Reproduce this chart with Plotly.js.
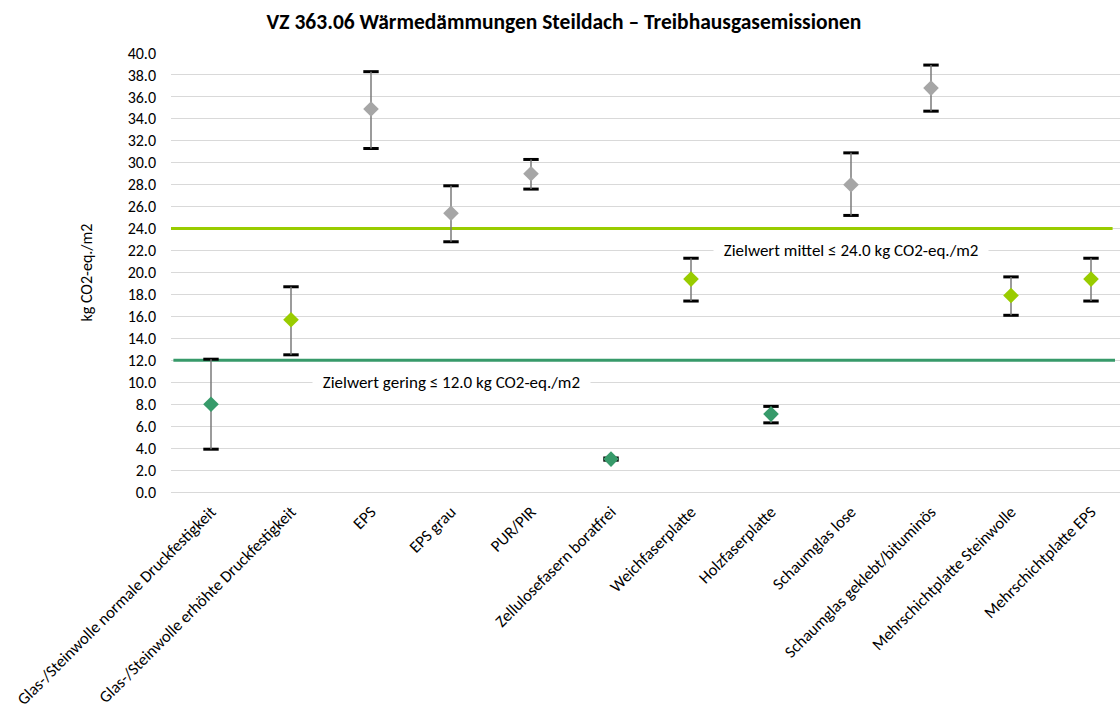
<!DOCTYPE html>
<html>
<head>
<meta charset="utf-8">
<script src="https://cdn.plot.ly/plotly-3.0.1.min.js"></script>
<style>html,body{margin:0;padding:0;background:#fff;}#chart{width:1120px;height:713px;}</style>
</head>
<body>
<div id="chart"></div>
<script>
const categories = [
  "Glas-/Steinwolle normale Druckfestigkeit",
  "Glas-/Steinwolle erhöhte Druckfestigkeit",
  "EPS",
  "EPS grau",
  "PUR/PIR",
  "Zellulosefasern boratfrei",
  "Weichfaserplatte",
  "Holzfaserplatte",
  "Schaumglas lose",
  "Schaumglas geklebt/bituminös",
  "Mehrschichtplatte Steinwolle",
  "Mehrschichtplatte EPS"
];
const values = [8.0, 15.7, 34.9, 25.4, 29.0, 3.0, 19.4, 7.1, 28.0, 36.8, 17.9, 19.4];
const upper  = [12.1, 18.7, 38.3, 27.9, 30.3, 3.1, 21.3, 7.8, 30.9, 38.9, 19.6, 21.3];
const lower  = [3.9, 12.5, 31.3, 22.8, 27.6, 2.9, 17.4, 6.3, 25.2, 34.7, 16.1, 17.4];
const targetLow = 12.0;
const targetMid = 24.0;
const labelLow = "Zielwert gering ≤ 12.0 kg CO2-eq./m2";
const labelMid = "Zielwert mittel ≤ 24.0 kg CO2-eq./m2";
const yTicks = [0,2,4,6,8,10,12,14,16,18,20,22,24,26,28,30,32,34,36,38,40];

const C_LOW = "#379a6a", C_MID = "#99cc00", C_HIGH = "#a6a6a6";
const colors = values.map(v => v <= targetLow ? C_LOW : (v <= targetMid ? C_MID : C_HIGH));
const FONT = "Carlito, Calibri, Lato, sans-serif";

const capX = categories.concat(categories);
const capY = upper.concat(lower);

const traces = [
  {
    type: "scatter", mode: "markers", x: capX, y: capY,
    marker: {symbol: "line-ew", size: 11, color: "#000", line: {width: 3, color: "#000"}},
    hoverinfo: "skip", showlegend: false, cliponaxis: false
  },
  {
    type: "scatter", mode: "markers", x: categories, y: values,
    marker: {symbol: "diamond", size: 12, color: colors},
    error_y: {
      type: "data", symmetric: false,
      array: upper.map((u, i) => u - values[i]),
      arrayminus: lower.map((l, i) => values[i] - l),
      color: "#7a7a7a", thickness: 1.5, width: 0
    },
    showlegend: false, cliponaxis: false
  }
];

const layout = {
  width: 1120, height: 713,
  margin: {l: 171, r: 0, t: 53, b: 221},
  paper_bgcolor: "#fff", plot_bgcolor: "#fff",
  font: {family: FONT, size: 16, color: "#000"},
  title: {
    text: "<b>VZ 363.06 Wärmedämmungen Steildach – Treibhausgasemissionen</b>",
    font: {family: FONT, size: 21.5, color: "#000"},
    x: 564/1120, xref: "container", xanchor: "center",
    y: 1 - 21/713, yref: "container", yanchor: "middle"
  },
  xaxis: {
    type: "category",
    range: [-0.5, 11.3625],
    tickangle: -45,
    showgrid: false, zeroline: false, showline: false,
    ticks: "", ticklabelstandoff: 6,
    tickfont: {family: FONT, size: 16.5, color: "#000"},
    automargin: false, fixedrange: true
  },
  yaxis: {
    range: [0, 40],
    tickvals: yTicks,
    ticktext: yTicks.map(v => v.toFixed(1)),
    showgrid: true, gridcolor: "#d9d9d9", gridwidth: 1,
    zeroline: true, zerolinecolor: "#d9d9d9", zerolinewidth: 1,
    showline: false, ticks: "", ticklabelstandoff: 14,
    tickfont: {family: FONT, size: 16, color: "#000"},
    title: {text: "kg CO2-eq./m2", font: {family: FONT, size: 16, color: "#000"}, standoff: 31},
    automargin: false, fixedrange: true
  },
  shapes: [
    {type: "line", layer: "between", xref: "x", yref: "y", x0: -0.5, x1: 11.27, y0: targetMid, y1: targetMid,
     line: {color: C_MID, width: 3}},
    {type: "line", layer: "between", xref: "x", yref: "y", x0: -0.47, x1: 11.3, y0: targetLow, y1: targetLow,
     line: {color: C_LOW, width: 3}}
  ],
  annotations: [
    {x: 3, y: 10, xref: "x", yref: "y", text: "\u00a0\u00a0" + labelLow + "\u00a0\u00a0", showarrow: false,
     bgcolor: "#fff", borderpad: 2, font: {family: FONT, size: 17, color: "#000"}},
    {x: 8, y: 22, xref: "x", yref: "y", text: "\u00a0\u00a0" + labelMid + "\u00a0\u00a0", showarrow: false,
     bgcolor: "#fff", borderpad: 2, font: {family: FONT, size: 17, color: "#000"}}
  ]
};

Plotly.newPlot("chart", traces, layout, {displayModeBar: false, staticPlot: true});
</script>
</body>
</html>
